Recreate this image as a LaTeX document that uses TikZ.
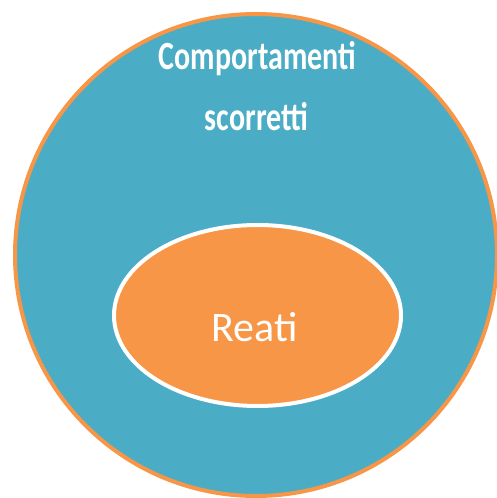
\documentclass[tikz,border=0pt]{standalone}
\usepackage{fontspec}
\setmainfont{Carlito}
\usepackage{xcolor}
\usetikzlibrary{shapes}
\definecolor{setblue}{HTML}{4BACC6}
\definecolor{setorange}{HTML}{F79646}

\begin{document}
\begin{tikzpicture}[x=1pt,y=1pt,
        bigset/.style = {circle, fill=setblue, draw=setorange, line width=4pt, minimum size=482pt, inner sep=0pt},
        subset/.style = {ellipse, fill=setorange, draw=white, line width=4pt, minimum width=287pt, minimum height=181pt, inner sep=0pt},
        title/.style = {text=white, font=\bfseries\fontsize{40}{40}\selectfont, anchor=base, xscale=0.75},
        inner/.style = {text=white, font=\fontsize{42}{42}\selectfont, anchor=base}]
    \useasboundingbox (0,0) rectangle (497,498);
    \node [bigset] (comp) at (256,243) {};
    \node [subset] (reati) at (257.5,182.5) {};
    \node [title] (t1) at (257.5,428) {Comportamenti};
    \node [title] (t2) at (256.5,367) {scorretti};
    \node [inner] (t3) at (254.5,156) {Reati};
\end{tikzpicture}
\end{document}
